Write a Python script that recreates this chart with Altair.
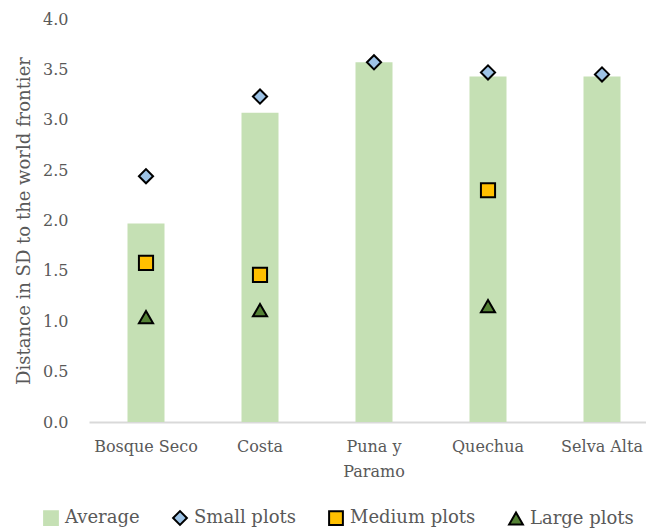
import altair as alt
import pandas as pd

categories = ["Bosque Seco", "Costa", "Puna y Paramo", "Quechua", "Selva Alta"]
average = [1.97, 3.07, 3.57, 3.43, 3.43]
small_plots = [2.44, 3.23, 3.57, 3.47, 3.45]
medium_plots = [1.58, 1.46, None, 2.30, None]
large_plots = [1.04, 1.11, None, 1.15, None]

series_names = ["Average", "Small plots", "Medium plots", "Large plots"]
series_values = [average, small_plots, medium_plots, large_plots]
series_colors = ["#c5e0b4", "#9dc3e6", "#ffc000", "#548235"]
series_strokes = ["#c5e0b4", "#000000", "#000000", "#000000"]
series_shapes = ["square", "diamond", "square", "triangle-up"]

rows = []
for name, vals in zip(series_names, series_values):
    for c, v in zip(categories, vals):
        if v is not None:
            rows.append({"region": c, "series": name, "value": v})
df = pd.DataFrame(rows)

FONT = "DejaVu Serif"
GRAY = "#595959"


def make_legend():
    return alt.Legend(
        title=None,
        orient="none",
        direction="horizontal",
        legendX=-47,
        legendY=490,
        labelFont=FONT,
        labelFontSize=18,
        labelColor=GRAY,
        symbolSize=190,
        symbolStrokeWidth=2,
        labelOffset=5,
        columnPadding=29,
        padding=0,
    )


x_enc = alt.X(
    "region:N",
    sort=categories,
    scale=alt.Scale(range=[0, 570], paddingInner=0, paddingOuter=0),
    axis=alt.Axis(
        title=None,
        labelAngle=0,
        labelFont=FONT,
        labelFontSize=16,
        labelColor=GRAY,
        labelPadding=16,
        labelLineHeight=25,
        labelBaseline="top",
        ticks=False,
        domainColor="#d9d9d9",
        domainWidth=2,
        labelExpr="datum.label == 'Puna y Paramo' ? ['Puna y', 'Paramo'] : datum.label",
    ),
)
y_enc = alt.Y(
    "value:Q",
    scale=alt.Scale(domain=[0, 4]),
    axis=alt.Axis(
        title="Distance in SD to the world frontier",
        values=[0, 0.5, 1, 1.5, 2, 2.5, 3, 3.5, 4],
        format=".1f",
        grid=False,
        domain=False,
        ticks=False,
        labelFont=FONT,
        labelFontSize=16,
        labelColor=GRAY,
        labelPadding=21,
        titleFont=FONT,
        titleFontSize=18,
        titleFontWeight="normal",
        titleColor=GRAY,
        titlePadding=9,
    ),
)

color_enc = alt.Color(
    "series:N",
    scale=alt.Scale(domain=series_names, range=series_colors),
    legend=make_legend(),
)
stroke_enc = alt.Stroke(
    "series:N",
    scale=alt.Scale(domain=series_names, range=series_strokes),
    legend=make_legend(),
)
shape_enc = alt.Shape(
    "series:N",
    scale=alt.Scale(domain=series_names, range=series_shapes),
    legend=make_legend(),
)

base = alt.Chart(df)

bars = base.transform_filter(alt.datum.series == "Average").mark_bar(size=37, strokeWidth=0).encode(
    x=x_enc, y=y_enc, color=color_enc
)

points = base.transform_filter(alt.datum.series != "Average").mark_point(
    filled=True, size=200, strokeWidth=2, opacity=1
).encode(
    x=x_enc, y=y_enc, color=color_enc, shape=shape_enc, stroke=stroke_enc
)

chart = (
    alt.layer(bars, points)
    .properties(
        width=557,
        height=403,
        autosize=alt.AutoSizeParams(type="none"),
        padding={"left": 89, "top": 19, "right": 0, "bottom": 109},
        background="white",
    )
    .configure_view(stroke=None)
)

chart.save("out.html", embed_options={"renderer": "svg", "actions": False})
